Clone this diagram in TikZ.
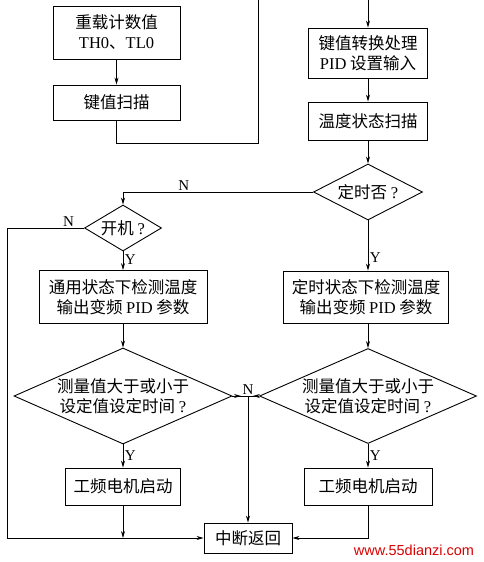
\documentclass[tikz,border=0pt]{standalone}
\usepackage{fontspec}
\setmainfont{Liberation Serif}
\newfontfamily\cjk{Noto Sans CJK SC}
\newfontfamily\wmfont{Liberation Sans}
\usetikzlibrary{shapes.geometric,arrows.meta,decorations.markings}
\newcommand{\lat}[1]{{\rmfamily #1}}
\tikzset{
  box/.style={draw,line width=0.9pt,font=\cjk\fontsize{16.5}{20}\selectfont,align=center,inner sep=0pt},
  dia/.style={draw,diamond,line width=0.9pt,font=\cjk\fontsize{16.5}{20}\selectfont,align=center,inner sep=0pt},
  link/.style={line width=0.7pt},
  flow/.style={line width=0.7pt,-{Stealth[length=7pt,width=4pt]}},
  midflow/.style={line width=0.7pt,postaction={decorate},
    decoration={markings,mark=at position 0.55 with {\arrow{Stealth[length=7pt,width=4pt]}}}},
  lab/.style={font=\fontsize{15}{15}\selectfont,inner sep=1.5pt}
}
\begin{document}
\begin{tikzpicture}[x=1pt,y=-1pt]
    \useasboundingbox (0,0) rectangle (484,562);
    % boxes
    \node[box,minimum width=127pt,minimum height=53pt] (load) at (116.5,32.5) {重载计数值\\\lat{TH0}、\lat{TL0}};
    \node[box,minimum width=127pt,minimum height=35pt] (keyscan) at (116.5,102.5) {键值扫描};
    \node[box,minimum width=119pt,minimum height=50pt] (conv) at (368,53) {键值转换处理\\\lat{PID} 设置输入};
    \node[box,minimum width=119pt,minimum height=38pt] (tscan) at (368,121) {温度状态扫描};
    \node[dia,minimum width=109pt,minimum height=56pt,aspect=1.95] (timer) at (368,192) {定时否 \lat{?}};
    \node[dia,minimum width=77pt,minimum height=46pt,aspect=1.67] (power) at (123,228) {开机 \lat{?}};
    \node[box,minimum width=168pt,minimum height=53pt] (gen) at (123,297) {通用状态下检测温度\\输出变频 \lat{PID} 参数};
    \node[box,minimum width=165pt,minimum height=52pt] (tmd) at (366,297) {定时状态下检测温度\\输出变频 \lat{PID} 参数};
    \node[dia,minimum width=218pt,minimum height=96pt,aspect=2.27] (lcmp) at (123,396) {测量值大于或小于\\设定值设定时间 \lat{?}};
    \node[dia,minimum width=217pt,minimum height=95pt,aspect=2.27] (rcmp) at (368,396) {测量值大于或小于\\设定值设定时间 \lat{?}};
    \node[box,minimum width=115pt,minimum height=37pt] (lmot) at (123,486.5) {工频电机启动};
    \node[box,minimum width=128pt,minimum height=37pt] (rmot) at (368,486.5) {工频电机启动};
    \node[box,minimum width=88pt,minimum height=30pt] (ret) at (248,538) {中断返回};
    \node[font=\wmfont\fontsize{14.5}{15}\selectfont,text=red!85!black,inner sep=0pt] (mark) at (414,550) {www.55dianzi.com};
    % free ends
    \coordinate (topL) at (258,0);
    \coordinate (bend) at (258,143);
    \coordinate (topR) at (368,0);
    \coordinate (rail) at (7,0);
    \coordinate (jn) at (ret.north|-lcmp.east);
    % connectors
    \draw[flow] (load) -- (keyscan);
    \draw[link] (keyscan.south) |- (bend) -- (topL);
    \draw[flow] (topR) -- (conv);
    \draw[flow] (conv) -- (tscan);
    \draw[flow] (tscan) -- (timer);
    \draw[flow] (timer.west) -- node[lab,above,pos=0.68]{N} (timer.west-|power.north) -- (power.north);
    \draw[flow] (power.west) -- node[lab,above,pos=0.2]{N} (power.west-|rail) -- (ret.west-|rail) -- (ret.west);
    \draw[flow] (power) -- node[lab,right,pos=0.45]{Y} (gen);
    \draw[flow] (timer) -- node[lab,right,pos=0.75]{Y} (timer.south|-tmd.north);
    \draw[flow] (gen) -- (lcmp);
    \draw[flow] (tmd.south-|rcmp.north) -- (rcmp);
    \draw[flow] (lcmp) -- node[lab,right]{Y} (lmot);
    \draw[flow] (rcmp) -- node[lab,right]{Y} (rmot);
    \draw[flow] (lmot) -- (lmot.south|-ret.west);
    \draw[flow] (rmot.south) |- (ret.east);
    \draw[midflow] (lcmp.east) -- (jn) node[lab,above]{N};
    \draw[midflow] (rcmp.west) -- (jn);
    \draw[flow] (jn) -- (ret);
\end{tikzpicture}
\end{document}
